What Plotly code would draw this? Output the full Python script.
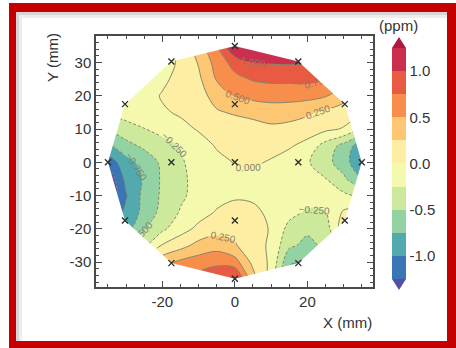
import plotly.graph_objects as go

# ---------------- data ----------------
grid_x = [-35, -30, -25, -20, -15, -10, -5, 0, 5, 10, 15, 20, 25, 30, 35]
grid_y = [35, 30, 25, 20, 15, 10, 5, 0, -5, -10, -15, -20, -25, -30, -35]

row_p35 = [-0.25, -0.2, -0.15, -0.1, 0.06, 0.38, 0.75, 1.3, 1.3, 1.25, 1.2, 1.15, 1.0, 0.8, 0.5]
row_p30 = [-0.25, -0.18, -0.12, -0.08, 0.03, 0.27, 0.6, 0.85, 1.0, 1.02, 1.03, 1.0, 0.9, 0.7, 0.45]
row_p25 = [-0.2, -0.15, -0.1, -0.05, 0.08, 0.2, 0.52, 0.68, 0.77, 0.8, 0.8, 0.82, 0.75, 0.6, 0.4]
row_p20 = [-0.3, -0.2, -0.1, 0.02, 0.1, 0.18, 0.32, 0.52, 0.58, 0.6, 0.6, 0.58, 0.52, 0.35, 0.1]
row_p15 = [-0.25, -0.15, -0.08, -0.03, 0.03, 0.13, 0.23, 0.27, 0.3, 0.36, 0.34, 0.29, 0.2, 0.12, 0.0]
row_p10 = [-0.5, -0.35, -0.26, -0.16, -0.07, 0.02, 0.09, 0.15, 0.18, 0.2, 0.18, 0.12, 0.05, -0.02, -0.3]
row_p05 = [-0.8, -0.58, -0.45, -0.35, -0.23, -0.1, 0.02, 0.06, 0.08, 0.07, 0.03, -0.08, -0.35, -0.58, -0.9]
row_000 = [-1.15, -0.85, -0.65, -0.45, -0.28, -0.15, -0.06, 0.01, 0.03, -0.02, -0.12, -0.22, -0.42, -0.62, -1.0]
row_m05 = [-1.45, -0.93, -0.72, -0.46, -0.3, -0.17, -0.08, -0.05, -0.05, -0.08, -0.1, -0.15, -0.24, -0.45, -0.75]
row_m10 = [-1.45, -1.02, -0.67, -0.46, -0.29, -0.17, -0.08, -0.03, -0.04, -0.08, -0.12, -0.16, -0.18, -0.2, -0.3]
row_m15 = [-1.2, -0.95, -0.67, -0.42, -0.23, -0.1, 0.02, 0.08, 0.05, -0.05, -0.17, -0.28, -0.25, 0.03, 0.15]
row_m20 = [-1.0, -0.85, -0.52, -0.3, -0.1, 0.06, 0.15, 0.19, 0.1, -0.02, -0.33, -0.45, -0.38, 0.15, 0.1]
row_m25 = [-0.8, -0.55, -0.3, 0.02, 0.16, 0.33, 0.4, 0.27, 0.12, -0.05, -0.45, -0.57, -0.45, -0.1, 0.1]
row_m30 = [-0.3, -0.1, 0.1, 0.4, 0.55, 0.62, 0.68, 0.6, 0.18, -0.05, -0.72, -0.8, -0.6, -0.3, -0.2]
row_m35 = [-0.2, 0.0, 0.3, 0.55, 0.7, 0.85, 0.97, 1.05, 0.35, -0.1, -0.85, -0.95, -0.7, -0.4, -0.2]

# measurement positions (outer ring of 12, then the inner points)
ring_x = [0, 17.5, 30.31, 35, 30.31, 17.5, 0, -17.5, -30.31, -35, -30.31, -17.5]
ring_y = [35, 30.31, 17.5, 0, -17.5, -30.31, -35, -30.31, -17.5, 0, 17.5, 30.31]
inner_x = [0, 17.5, 0, -17.5, 0]
inner_y = [17.5, 0, -17.5, 0, 0]

levels_start, levels_end, levels_step = -1.25, 1.25, 0.25
cbar_tickvals = [-1.0, -0.5, 0.0, 0.5, 1.0]
cbar_ticktext = ['-1.0', '-0.5', '0.0', '0.5', '1.0']
x_tickvals = [-20, 0, 20]
x_ticktext = ['-20', '0', '20']
y_tickvals = [-30, -20, -10, 0, 10, 20, 30]
y_ticktext = ['-30', '-20', '-10', '0', '10', '20', '30']
# ---------------------------------------------------------------

z = [row_p35, row_p30, row_p25, row_p20, row_p15, row_p10, row_p05, row_000,
     row_m05, row_m10, row_m15, row_m20, row_m25, row_m30, row_m35]

# colours: under, 10 bands (-1.25 .. 1.25), over
band_colors = ['#5251a4', '#3a76b6', '#52aaae', '#93d3a3', '#cde99c', '#f4f9ae',
               '#feeea3', '#fdc673', '#f88e4c', '#e85b42', '#cc2f4e', '#b01848']
n = len(band_colors) - 1
fill_scale = [[k / n, c] for k, c in enumerate(band_colors)]
inner_cols = band_colors[1:-1]
bar_scale = []
for k, c in enumerate(inner_cols):
    bar_scale.append([k / len(inner_cols), c])
    bar_scale.append([(k + 1) / len(inner_cols), c])

L, T, W, H = 96, 36, 277, 251
FW, FH = 456, 348


def px(xp):
    return (xp - L) / W


def py(yp):
    return 1 - (yp - T) / H


fig = go.Figure()

fig.add_trace(go.Contour(
    x=grid_x, y=grid_y, z=z,
    colorscale=fill_scale, showscale=False,
    contours=dict(coloring='fill', start=levels_start, end=levels_end, size=levels_step),
    line=dict(width=0), hoverinfo='skip'))

lab_font = dict(size=10, color='#80806a', family='Liberation Sans, Arial')
line_col = '#86866a'
fig.add_trace(go.Contour(
    x=grid_x, y=grid_y, z=z, showscale=False,
    contours=dict(coloring='none', start=levels_start, end=-levels_step, size=levels_step,
                  showlabels=True, labelformat='.3f', labelfont=lab_font),
    line=dict(color=line_col, width=1, dash='3px,2px'), hoverinfo='skip'))
fig.add_trace(go.Contour(
    x=grid_x, y=grid_y, z=z, showscale=False,
    contours=dict(coloring='none', start=0, end=levels_end, size=levels_step,
                  showlabels=True, labelformat='.3f', labelfont=lab_font),
    line=dict(color=line_col, width=1), hoverinfo='skip'))

# white mask outside the polygon formed by the outer measurement ring
E = 35.6
mx, my = [], []
for i0 in [0, 3, 6, 9]:
    idx = [(i0 + k) % 12 for k in range(4)]
    pts = [(ring_x[i], ring_y[i]) for i in idx]
    first, last = pts[0], pts[-1]
    ext_last = (last[0] * E / 35, last[1] * E / 35)
    ext_first = (first[0] * E / 35, first[1] * E / 35)
    corner = (E * (1 if (first[0] + last[0]) >= 0 else -1), E * (1 if (first[1] + last[1]) >= 0 else -1))
    seq = pts + [ext_last, corner, ext_first]
    mx += [p[0] for p in seq] + [seq[0][0], None]
    my += [p[1] for p in seq] + [seq[0][1], None]

fig.add_trace(go.Scatter(x=mx, y=my, mode='lines', fill='toself', fillcolor='white',
                         line=dict(width=0, color='white'), hoverinfo='skip', showlegend=False))

fig.add_trace(go.Scatter(x=ring_x + inner_x, y=ring_y + inner_y, mode='markers',
                         marker=dict(symbol='x-thin', size=6, line=dict(width=1.3, color='#2a2a2a')),
                         hoverinfo='skip', showlegend=False))

# colour bar
fig.add_trace(go.Scatter(
    x=[None, None], y=[None, None], mode='markers', showlegend=False, hoverinfo='skip',
    marker=dict(color=[levels_start, levels_end], cmin=levels_start, cmax=levels_end,
                colorscale=bar_scale, showscale=True,
                colorbar=dict(thickness=14, thicknessmode='pixels', len=231, lenmode='pixels',
                              x=px(392), xanchor='left', xpad=0, y=py(163.5), yanchor='middle', ypad=0,
                              outlinewidth=0, tickvals=cbar_tickvals, ticktext=cbar_ticktext,
                              ticks='', ticklabelposition='outside right',
                              tickfont=dict(size=15, color='#333', family='Liberation Sans, Arial')))))

axis_common = dict(showgrid=False, zeroline=False, showline=True, linecolor='#4a4a4a', linewidth=1.5,
                   mirror='allticks', ticks='inside', ticklen=6, tickwidth=1, tickcolor='#4a4a4a',
                   tickfont=dict(size=15, color='#333', family='Liberation Sans, Arial'))
fig.update_xaxes(range=[-38.3, 38.1], tickvals=x_tickvals, ticktext=x_ticktext,
                 minor=dict(dtick=5, tick0=0, ticks='inside', ticklen=3, tickcolor='#4a4a4a'),
                 **axis_common)
fig.update_yaxes(range=[-37.5, 38.0], tickvals=y_tickvals, ticktext=y_ticktext,
                 minor=dict(dtick=2, tick0=0, ticks='inside', ticklen=3, tickcolor='#4a4a4a'),
                 **axis_common)

shapes = []
red = '#c50000'
for (x0, y0, x1, y1) in [(9, 3, 16, FH), (9, 3, FW, 12), (447, 3, FW, FH), (9, 341, FW, FH)]:
    shapes.append(dict(type='rect', xref='paper', yref='paper', x0=px(x0), x1=px(x1), y0=py(y0), y1=py(y1),
                       fillcolor=red, line=dict(width=0), layer='above'))
for (x0, y0, x1, y1, c) in [(16, 12, 19, 341, '#d6d6d6'), (19, 12, 22, 341, '#ededed'),
                            (16, 12, 447, 15, '#d6d6d6'), (19, 15, 447, 18, '#ededed')]:
    shapes.append(dict(type='rect', xref='paper', yref='paper', x0=px(x0), x1=px(x1), y0=py(y0), y1=py(y1),
                       fillcolor=c, line=dict(width=0), layer='below'))
# colour-bar extension arrows
shapes.append(dict(type='path', xref='paper', yref='paper',
                   path=f'M {px(392)} {py(48)} L {px(406)} {py(48)} L {px(399)} {py(37)} Z',
                   fillcolor=band_colors[-1], line=dict(width=0)))
shapes.append(dict(type='path', xref='paper', yref='paper',
                   path=f'M {px(392)} {py(279)} L {px(406)} {py(279)} L {px(399)} {py(290)} Z',
                   fillcolor=band_colors[0], line=dict(width=0)))

font_ann = dict(size=15, color='#333', family='Liberation Sans, Arial')
annotations = [
    dict(text='Y (mm)', xref='paper', yref='paper', x=px(52), y=py(58), textangle=-90,
         showarrow=False, xanchor='center', yanchor='middle', font=font_ann),
    dict(text='X (mm)', xref='paper', yref='paper', x=px(374), y=py(322),
         showarrow=False, xanchor='right', yanchor='middle', font=font_ann),
    dict(text='(ppm)', xref='paper', yref='paper', x=px(398), y=py(25),
         showarrow=False, xanchor='center', yanchor='middle', font=font_ann),
]

fig.update_layout(width=FW, height=FH, margin=dict(l=L, r=FW - L - W, t=T, b=FH - T - H),
                  paper_bgcolor='white', plot_bgcolor='white', template='none',
                  showlegend=False, shapes=shapes, annotations=annotations)

fig.write_html('out.html')
